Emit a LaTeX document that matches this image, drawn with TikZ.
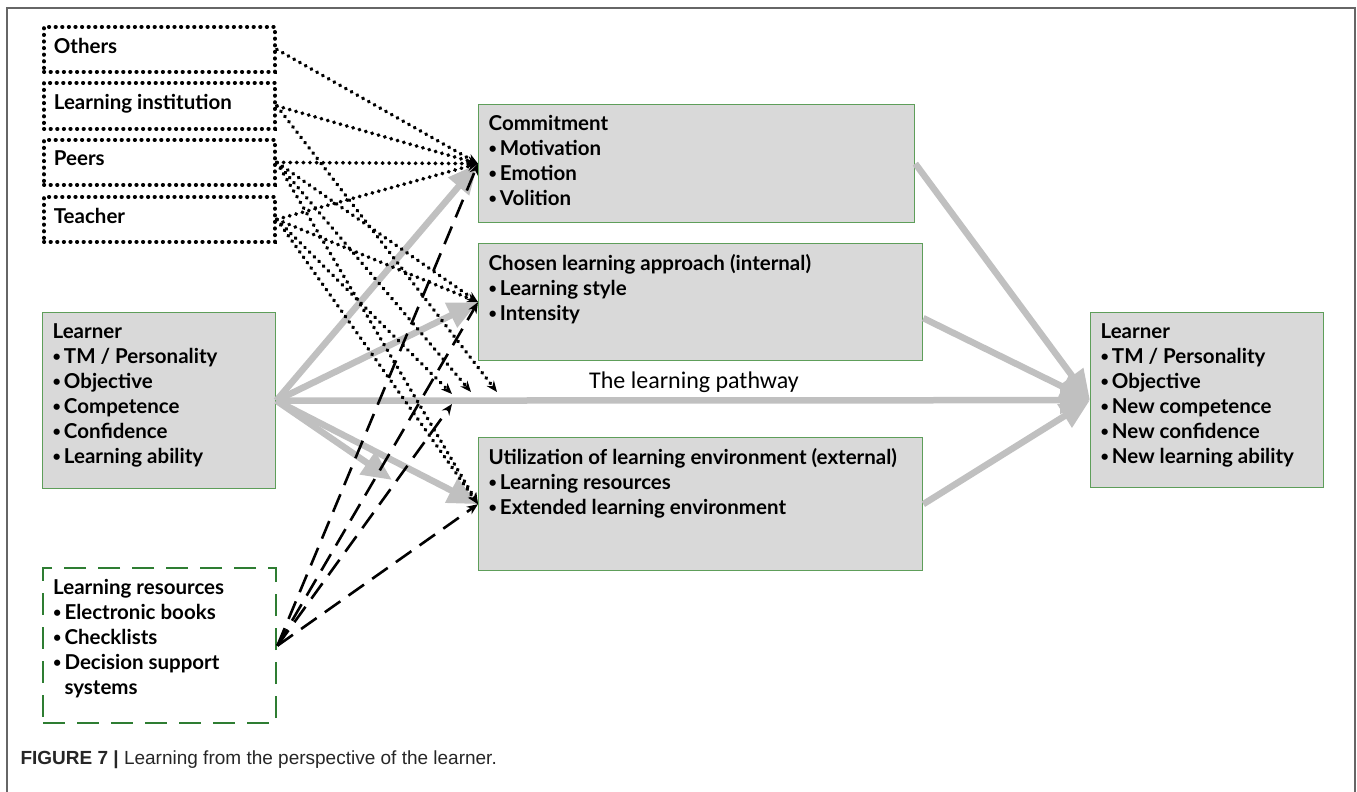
\documentclass[tikz,border=0pt]{standalone}
\usepackage{fontspec}
\setmainfont{Lato}
\newfontfamily\capfont{Liberation Sans}
\newfontfamily\pathfont{Carlito}
\usetikzlibrary{arrows.meta,calc}
\definecolor{boxgray}{HTML}{D9D9D9}
\definecolor{boxgreen}{HTML}{5E9E5A}
\definecolor{dgreen}{HTML}{2E7D32}
\definecolor{arrgray}{HTML}{C0C0C0}
\definecolor{framegray}{HTML}{666666}
\newcommand{\bxt}[3]{\parbox[t][#2][t]{#1}{\raggedright\bfseries\fontsize{20.5pt}{25pt}\selectfont #3}}
\newcommand{\bu}{\raisebox{0.1em}{\scalebox{0.7}{\textbullet}}\hspace{3pt}}
\tikzset{
  gbox/.style={draw=boxgreen, fill=boxgray, line width=1.3pt, inner xsep=10pt, inner ysep=11pt, anchor=north west},
  dotbox/.style={draw=black, line width=3.8pt, dash pattern=on 0.4pt off 6.2pt, line cap=round, inner xsep=10pt, inner ysep=11pt, anchor=north west},
  dashbox/.style={draw=dgreen, line width=2.4pt, dash pattern=on 22pt off 12pt, inner xsep=10pt, inner ysep=11pt, anchor=north west},
  garrow/.style={draw=arrgray, line width=6.5pt, -{Triangle[length=30pt,width=26pt]}},
  dotarrow/.style={draw=black, line width=3.8pt, dash pattern=on 0.4pt off 6.2pt, line cap=round, -{Stealth[length=11pt,width=9pt]}},
  dasharrow/.style={draw=black, line width=2.6pt, dash pattern=on 19pt off 10pt, -{Stealth[length=11pt,width=9pt]}}
}
\begin{document}
\begin{tikzpicture}[x=1pt,y=-1pt]
\useasboundingbox (0,0) rectangle (1357,792);
% frame
\coordinate (f1) at (7,792);
\coordinate (f2) at (7,8);
\coordinate (f3) at (1355,8);
\coordinate (f4) at (1355,792);
\draw[framegray, line width=1.6pt] (f1) -- (f2) -- (f3) -- (f4);

% left dotted boxes
\node[dotbox] (oth) at (42,25) {\bxt{211pt}{23pt}{Others}};
\node[dotbox] (inst) at (42,81) {\bxt{211pt}{24pt}{Learning institution}};
\node[dotbox] (peer) at (42,138) {\bxt{211pt}{23pt}{Peers}};
\node[dotbox] (teach) at (42,195) {\bxt{211pt}{23pt}{Teacher}};

% learner left
\node[gbox] (ll) at (42,312) {\bxt{213pt}{154pt}{Learner\\\bu TM / Personality\\\bu Objective\\\bu Competence\\\bu Confidence\\\bu Learning ability}};

% learning resources
\node[dashbox] (lr) at (42,567) {\bxt{213pt}{133pt}{Learning resources\\\bu Electronic books\\\bu Checklists\\\bu Decision support\\\phantom{\bu}systems}};

% middle boxes
\node[gbox] (commit) at (478,104) {\bxt{416pt}{96pt}{Commitment\\\bu Motivation\\\bu Emotion\\\bu Volition}};
\node[gbox] (chosen) at (478,243) {\bxt{424pt}{95pt}{Chosen learning approach (internal)\\\bu Learning style\\\bu Intensity}};
\node[gbox] (util) at (478,437) {\bxt{424pt}{111pt}{Utilization of learning environment (external)\\\bu Learning resources\\\bu Extended learning environment}};

% learner right
\node[gbox] (lrt) at (1090,312) {\bxt{213pt}{153pt}{Learner\\\bu TM / Personality\\\bu Objective\\\bu New competence\\\bu New confidence\\\bu New learning ability}};

% pathway label
\node[font=\pathfont\fontsize{24pt}{26pt}\selectfont] (plabel) at (694,382) {The learning pathway};

% free ends
\coordinate (p1) at (452,394);
\coordinate (p2) at (471,392);
\coordinate (p3) at (497,392);
\coordinate (p4) at (452,404);
\coordinate (sh) at (392,480);

% gray arrows
\draw[garrow] (ll.east) -- (commit.west);
\draw[garrow] (ll.east) -- (chosen.west);
\draw[garrow] (ll.east) -- (lrt.west);
\draw[garrow] (ll.east) -- (sh);
\draw[garrow] (ll.east) -- (util.west);
\draw[garrow] (commit.east) -- (lrt.west);
\draw[garrow] ($(chosen.east)+(0,16)$) -- (lrt.west);
\draw[garrow] (util.east) -- (lrt.west);

% dotted arrows
\draw[dotarrow] (oth.east) -- (commit.west);
\draw[dotarrow] (inst.east) -- (commit.west);
\draw[dotarrow] (peer.east) -- (commit.west);
\draw[dotarrow] (teach.east) -- (commit.west);
\draw[dotarrow] (peer.east) -- (chosen.west);
\draw[dotarrow] (teach.east) -- (chosen.west);
\draw[dotarrow] (inst.east) -- (p3);
\draw[dotarrow] (peer.east) -- (p2);
\draw[dotarrow] (teach.east) -- (p1);
\draw[dotarrow] (peer.east) -- (util.west);
\draw[dotarrow] (teach.east) -- (util.west);

% dashed arrows
\draw[dasharrow] (lr.east) -- (commit.west);
\draw[dasharrow] (lr.east) -- (chosen.west);
\draw[dasharrow] (lr.east) -- (p4);
\draw[dasharrow] (lr.east) -- (util.west);

% caption
\node[anchor=west, font=\capfont\fontsize{19pt}{22pt}\selectfont, text=black!85] (cap) at (17,760) {\textbf{FIGURE 7 |} Learning from the perspective of the learner.};
\end{tikzpicture}
\end{document}
